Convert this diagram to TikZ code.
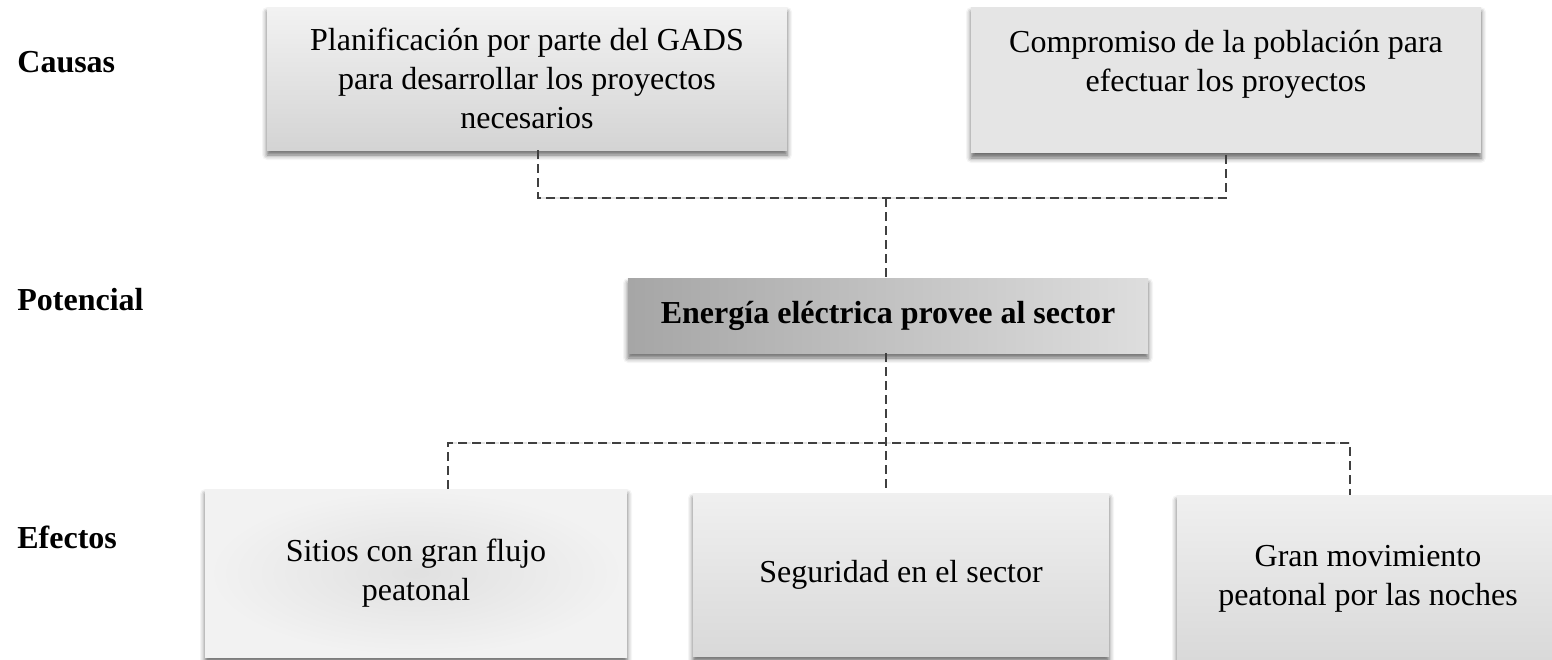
\documentclass[tikz,border=0pt]{standalone}
\usepackage{fontspec}
\setmainfont{Liberation Serif}
\usetikzlibrary{shadows.blur}
\begin{document}
\begin{tikzpicture}[x=0.5pt,y=-0.5pt,
  box/.style={rectangle, inner sep=0pt, align=center,
    font=\fontsize{16}{19.5}\selectfont,
    blur shadow={shadow xshift=0pt, shadow yshift=-2.5pt, shadow blur radius=2.5pt, shadow opacity=60}},
  lab/.style={anchor=base west, inner sep=0pt, font=\fontsize{16}{19}\selectfont\bfseries},
  conn/.style={draw=black!75, line width=0.65pt, dash pattern=on 4.5pt off 2.5pt},
  connshadow/.style={draw=black!10, line width=1pt, dash pattern=on 4.5pt off 2.5pt, yshift=-2pt},
]
\useasboundingbox (0,0) rectangle (1552,659);

% labels
\node[lab] (causas) at (17,72) {Causas};
\node[lab] (potencial) at (17,310) {Potencial};
\node[lab] (efectos) at (17,548) {Efectos};

% boxes
\node[box, top color=black!5, bottom color=black!17, minimum width=260pt, minimum height=71.5pt]
  (tl) at (527,78.5) {Planificación por parte del GADS\\para desarrollar los proyectos\\necesarios};
\node[box, fill=black!10, minimum width=255pt, minimum height=73pt]
  (tr) at (1226,80) {Compromiso de la población para\\efectuar los proyectos\\\mbox{}};
\node[box, left color=black!35, right color=black!13, minimum width=260pt, minimum height=37.5pt,
  font=\fontsize{16}{19}\selectfont\bfseries]
  (pot) at (888,315.5) {Energía eléctrica provee al sector};
\node[box, inner color=black!12, outer color=black!5, minimum width=211pt, minimum height=84pt]
  (ef1) at (416,573) {Sitios con gran flujo\\peatonal};
\node[box, top color=black!6, bottom color=black!15, minimum width=208pt, minimum height=81.5pt]
  (ef2) at (901,574.5) {Seguridad en el sector};
\node[box, top color=black!6, bottom color=black!15, minimum width=191pt, minimum height=83.5pt]
  (ef3) at (1368,578.5) {Gran movimiento\\peatonal por las noches};

% junction coordinates
\coordinate (jl) at (538,198);
\coordinate (jr) at (1226,198);
\coordinate (jc) at (886,198);
\coordinate (bl) at (448,443);
\coordinate (br) at (1350,443);
\coordinate (bc) at (886,443);

% connector shadows
\draw[connshadow] (jl) -- (jr);
\draw[connshadow] (bl) -- (br);

% connectors
\draw[conn] (tl.south -| jl) -- (jl) -- (jr) -- (tr.south -| jr);
\draw[conn] (jc) -- (pot.north -| jc);
\draw[conn] (pot.south -| bc) -- (ef2.north -| bc);
\draw[conn] (ef1.north -| bl) -- (bl) -- (br) -- (ef3.north -| br);
\end{tikzpicture}
\end{document}
